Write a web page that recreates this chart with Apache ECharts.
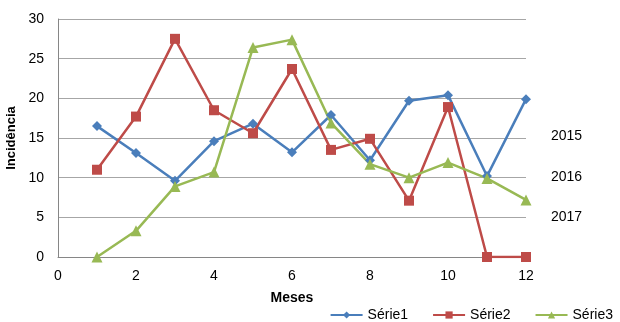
<!DOCTYPE html>
<html><head><meta charset="utf-8">
<script src="https://cdn.jsdelivr.net/npm/echarts@6/dist/echarts.min.js"></script>
<style>html,body{margin:0;padding:0;background:#fff}#c{width:620px;height:322px}</style>
</head><body><div id="c"></div>
<script>
var months = [1,2,3,4,5,6,7,8,9,10,11,12];
var serie1 = [16.5,13.1,9.6,14.6,16.8,13.2,17.9,12.2,19.7,20.4,10.2,19.9];
var serie2 = [11.0,17.7,27.5,18.5,15.6,23.7,13.5,14.9,7.1,18.9,0,0];
var serie3 = [0,3.3,8.9,10.7,26.4,27.4,16.9,11.7,10.0,11.9,9.9,7.2];
var seriesNames = ['Série1','Série2','Série3'];
var yearLabels = ['2015','2016','2017'];
var colors = ['#4A7EBB','#BE4B48','#98B954'];
var symbols = ['diamond','rect','triangle'];
var symbolSizes = [10,10,11];
var font = 'Liberation Sans, Arial, sans-serif';

function pairs(v){ return months.map(function(m,i){ return [m, v[i]]; }); }
var all = [serie1, serie2, serie3];
var chart = echarts.init(document.getElementById('c'));
chart.setOption({
  animation:false,
  textStyle:{fontFamily:font},
  grid:{left:58, right:94, top:19, bottom:65, containLabel:false, outerBoundsMode:'none'},
  xAxis:{type:'value', min:0, max:12, interval:2,
    name:'Meses', nameLocation:'middle', nameGap:34,
    nameTextStyle:{fontWeight:'bold', fontSize:14, color:'#000'},
    axisLine:{show:true, lineStyle:{color:'#868686'}},
    axisTick:{show:false},
    axisLabel:{fontSize:14, color:'#000', margin:12},
    splitLine:{show:false}},
  yAxis:{type:'value', min:0, max:30, interval:5,
    name:'Incidência', nameLocation:'middle', nameGap:34, nameRotate:90,
    nameTextStyle:{fontWeight:'bold', fontSize:13, color:'#000'},
    axisLine:{show:true, lineStyle:{color:'#868686'}},
    axisTick:{show:false},
    axisLabel:{fontSize:14, color:'#000', margin:14},
    splitLine:{show:true, lineStyle:{color:'#A6A6A6', width:1}}},
  legend:{right:2, top:303, itemGap:24, itemWidth:32, itemHeight:9,
    textStyle:{fontSize:14, color:'#000'},
    data:seriesNames},
  graphic: yearLabels.map(function(t,i){
    return {type:'text', left:551, top:[129,170,210][i], style:{text:t, fontSize:14, fill:'#000', font:'14px '+font}};
  }),
  series: all.map(function(v,i){
    return {name:seriesNames[i], type:'line', data:pairs(v),
      symbol:symbols[i], symbolSize:symbolSizes[i],
      lineStyle:{color:colors[i], width:2.5},
      itemStyle:{color:colors[i]}};
  })
});
</script></body></html>
